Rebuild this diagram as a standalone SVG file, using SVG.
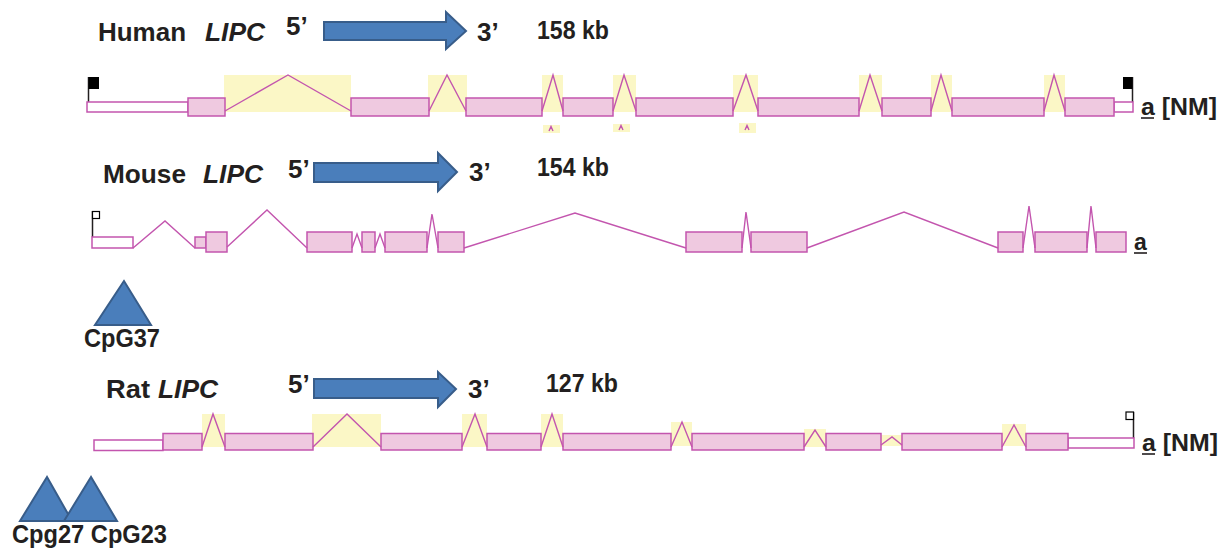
<svg xmlns="http://www.w3.org/2000/svg" width="1222" height="548" viewBox="0 0 1222 548">
<defs>
<style>
.t{font-family:"Liberation Sans",Arial,sans-serif;font-weight:bold;fill:#231F20;font-size:25px}
.h{font-size:26px}
.s{font-size:23px}
.i{font-style:italic}
.ex{fill:#EFC9E0;stroke:#C355AE;stroke-width:1.5}
.utr{fill:#fff;stroke:#C355AE;stroke-width:1.5}
.yl{fill:#FBF7C6;stroke:none}
.in{fill:none;stroke:#C355AE;stroke-width:1.4;stroke-linejoin:miter}
.arr{fill:#4A7EBB;stroke:#385D8A;stroke-width:2}
.pole{stroke:#231F20;stroke-width:1.5}
.fb{fill:#000}
.fo{fill:#fff;stroke:#000;stroke-width:1.2}
.ul{stroke:#231F20;stroke-width:1.6}
</style>
</defs>
<rect width="1222" height="548" fill="#fff"/>

<g id="human-header">
<text class="t h" x="98" y="41" textLength="88" lengthAdjust="spacingAndGlyphs">Human</text>
<text class="t h i" x="205" y="41" textLength="60" lengthAdjust="spacingAndGlyphs">LIPC</text>
<text class="t h" x="286" y="35">5’</text>
<polygon class="arr" points="324,22 446,22 446,12 466,31 446,49 446,40 324,40"/>
<text class="t h" x="477" y="41">3’</text>
<text class="t" x="537" y="39" textLength="72" lengthAdjust="spacingAndGlyphs">158 kb</text>
</g>

<g id="human-gene">
<rect class="yl" x="224" y="75" width="127" height="37"/>
<rect class="yl" x="428" y="75" width="39" height="37"/>
<rect class="yl" x="542" y="75" width="21" height="37"/>
<rect class="yl" x="613" y="75" width="23" height="37"/>
<rect class="yl" x="733" y="75" width="25" height="37"/>
<rect class="yl" x="859" y="75" width="23" height="37"/>
<rect class="yl" x="931" y="75" width="21" height="37"/>
<rect class="yl" x="1044" y="75" width="21" height="37"/>
<rect class="yl" x="543" y="125" width="17" height="8"/>
<rect class="yl" x="613" y="124" width="17" height="8"/>
<rect class="yl" x="739" y="123" width="17" height="10"/>
<path class="in" d="M549,131 L551,126.5 L553,131 M619,130 L621,125.5 L623,130 M745,130 L747,125.5 L749,130"/>
<line class="pole" x1="88.5" y1="77" x2="88.5" y2="102"/>
<rect class="fb" x="88.5" y="77" width="10.5" height="12"/>
<line class="pole" x1="1132.5" y1="77" x2="1132.5" y2="102"/>
<rect class="fb" x="1123" y="77" width="9.5" height="12"/>
<rect class="utr" x="87" y="102" width="101" height="10"/>
<rect class="utr" x="1114" y="102" width="19" height="10"/>
<rect class="ex" x="188" y="98" width="37" height="18"/>
<rect class="ex" x="351" y="98" width="78" height="18"/>
<rect class="ex" x="466" y="98" width="76" height="18"/>
<rect class="ex" x="563" y="98" width="50" height="18"/>
<rect class="ex" x="636" y="98" width="97" height="18"/>
<rect class="ex" x="758" y="98" width="101" height="18"/>
<rect class="ex" x="882" y="98" width="49" height="18"/>
<rect class="ex" x="952" y="98" width="92" height="18"/>
<rect class="ex" x="1065" y="98" width="49" height="18"/>
<text class="t s" x="1141" y="115" textLength="76" lengthAdjust="spacingAndGlyphs">a [NM]</text>
<line class="ul" x1="1141" y1="118" x2="1154" y2="118"/>
</g>

<g id="mouse-header">
<text class="t h" x="103" y="183" textLength="83" lengthAdjust="spacingAndGlyphs">Mouse</text>
<text class="t h i" x="203" y="183" textLength="60" lengthAdjust="spacingAndGlyphs">LIPC</text>
<text class="t h" x="288" y="178">5’</text>
<polygon class="arr" points="314,163 438,163 438,153 457,172 438,191 438,182 314,182"/>
<text class="t h" x="469" y="181">3’</text>
<text class="t" x="537" y="176" textLength="72" lengthAdjust="spacingAndGlyphs">154 kb</text>
</g>

<g id="mouse-gene">
<line class="pole" x1="92.5" y1="211" x2="92.5" y2="237"/>
<rect class="fo" x="92.5" y="211.5" width="7" height="7"/>
<rect class="utr" x="92" y="237" width="41" height="11"/>
<rect class="ex" x="195" y="237" width="11" height="11"/>
<rect class="ex" x="206" y="232" width="21" height="20"/>
<rect class="ex" x="307" y="232" width="45" height="20"/>
<rect class="ex" x="362" y="232" width="13" height="20"/>
<rect class="ex" x="385" y="232" width="42" height="20"/>
<rect class="ex" x="438" y="232" width="26" height="20"/>
<rect class="ex" x="686" y="232" width="56" height="20"/>
<rect class="ex" x="751" y="232" width="56" height="20"/>
<rect class="ex" x="998" y="232" width="25" height="20"/>
<rect class="ex" x="1035" y="232" width="52" height="20"/>
<rect class="ex" x="1096" y="232" width="30" height="20"/>
<text class="t s" x="1134" y="250">a</text>
<line class="ul" x1="1134" y1="253" x2="1147" y2="253"/>
</g>

<g id="cpg37">
<polygon class="arr" points="124,281 95,325 151,325"/>
<text class="t" x="84" y="347" textLength="76" lengthAdjust="spacingAndGlyphs">CpG37</text>
</g>

<g id="rat-header">
<text class="t h" x="106" y="398" textLength="44" lengthAdjust="spacingAndGlyphs">Rat</text>
<text class="t h i" x="158" y="398" textLength="60" lengthAdjust="spacingAndGlyphs">LIPC</text>
<text class="t h" x="288" y="393">5’</text>
<polygon class="arr" points="314,379 438,379 438,372 456,389 438,407 438,398 314,398"/>
<text class="t h" x="468" y="398">3’</text>
<text class="t" x="546" y="392" textLength="72" lengthAdjust="spacingAndGlyphs">127 kb</text>
</g>

<g id="rat-gene">
<rect class="yl" x="202" y="414" width="23" height="33"/>
<rect class="yl" x="312" y="414" width="69" height="33"/>
<rect class="yl" x="462" y="414" width="25" height="33"/>
<rect class="yl" x="541" y="414" width="22" height="33"/>
<rect class="yl" x="671" y="422" width="21" height="24"/>
<rect class="yl" x="804" y="429" width="22" height="18"/>
<rect class="yl" x="881" y="435" width="21" height="11"/>
<rect class="yl" x="1002" y="424" width="24" height="22"/>
<rect class="utr" x="94" y="440" width="69" height="10.5"/>
<line class="pole" x1="1133.5" y1="412" x2="1133.5" y2="438"/>
<rect class="fo" x="1126" y="412" width="7.5" height="7.5"/>
<rect class="utr" x="1068" y="438" width="66" height="10"/>
<rect class="ex" x="163" y="433.5" width="39" height="16.5"/>
<rect class="ex" x="225" y="433.5" width="88" height="16.5"/>
<rect class="ex" x="381" y="433.5" width="81" height="16.5"/>
<rect class="ex" x="487" y="433.5" width="54" height="16.5"/>
<rect class="ex" x="563" y="433.5" width="108" height="16.5"/>
<rect class="ex" x="692" y="433.5" width="112" height="16.5"/>
<rect class="ex" x="826" y="433.5" width="55" height="16.5"/>
<rect class="ex" x="902" y="433.5" width="100" height="16.5"/>
<rect class="ex" x="1026" y="433.5" width="42" height="16.5"/>
<text class="t s" x="1142" y="451" textLength="76" lengthAdjust="spacingAndGlyphs">a [NM]</text>
<line class="ul" x1="1142" y1="454" x2="1155" y2="454"/>
</g>

<g id="cpg27-23">
<polygon class="arr" points="47,477 20,521 72,521"/>
<polygon class="arr" points="91,477 64,521 117,521"/>
<text class="t" x="12" y="543" textLength="155" lengthAdjust="spacingAndGlyphs">Cpg27 CpG23</text>
</g>

<g id="connectors">
<polyline class="in" points="225,111 288,75 351,111"/>
<polyline class="in" points="429,111 447,75 466,111"/>
<polyline class="in" points="542,111 553,75 563,111"/>
<polyline class="in" points="613,111 624,75 636,111"/>
<polyline class="in" points="733,111 746,75 758,111"/>
<polyline class="in" points="859,111 870,75 882,111"/>
<polyline class="in" points="931,111 941,75 952,111"/>
<polyline class="in" points="1044,111 1054,75 1065,111"/>
<polyline class="in" points="133,248 165,221 195,248"/>
<polyline class="in" points="227,247 267,210 307,248"/>
<polyline class="in" points="352,248 357,234 362,248"/>
<polyline class="in" points="375,248 380,234 385,248"/>
<polyline class="in" points="427,248 432,214 438,248"/>
<polyline class="in" points="464,248 575,213 686,248"/>
<polyline class="in" points="742,248 746,212 751,248"/>
<polyline class="in" points="807,248 904,212 998,248"/>
<polyline class="in" points="1023,248 1029,206 1035,248"/>
<polyline class="in" points="1087,248 1091,206 1096,248"/>
<polyline class="in" points="202,447 213,414 225,447"/>
<polyline class="in" points="313,447 347,414 381,447"/>
<polyline class="in" points="462,447 475,414 487,447"/>
<polyline class="in" points="541,447 552,414 563,447"/>
<polyline class="in" points="671,447 682,422 692,447"/>
<polyline class="in" points="804,447 815,430 826,447"/>
<polyline class="in" points="881,445 892,437 902,445"/>
<polyline class="in" points="1002,447 1014,425 1026,447"/>
</g>
</svg>
